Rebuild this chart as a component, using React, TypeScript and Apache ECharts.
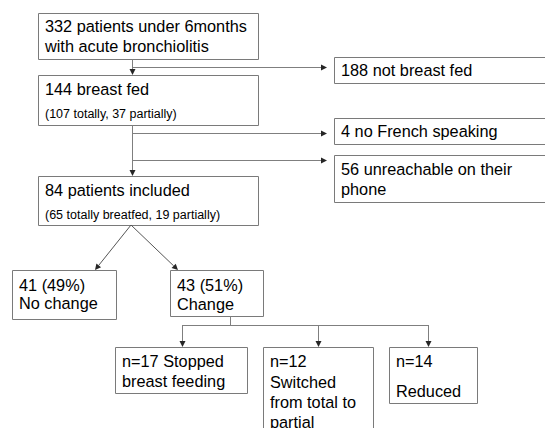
import React, { useEffect, useRef } from "react";
import * as echarts from "echarts";

// Flowchart content (data)
const boxIds = ["screened", "notBreastFed", "breastFed", "noFrench", "unreachable", "included", "noChange", "change", "stopped", "switched", "reduced"];
const boxMainLines: string[][] = [
  ["332 patients under 6months", "with acute bronchiolitis"],
  ["188 not breast fed"],
  ["144 breast fed"],
  ["4 no French speaking"],
  ["56 unreachable on their", "phone"],
  ["84 patients included"],
  ["41 (49%)", "No change"],
  ["43 (51%)", "Change"],
  ["n=17 Stopped", "breast feeding"],
  ["n=12", "Switched", "from total to", "partial"],
  ["n=14", "Reduced"],
];
const boxSubLines: string[] = ["", "", "(107 totally, 37 partially)", "", "", "(65 totally breatfed, 19 partially)", "", "", "", "", ""];

// Layout (positions / sizes), kept separate from content
const boxRects: number[][] = [
  [38, 13, 220, 46],
  [334, 57, 230, 26],
  [38, 75, 220, 50],
  [334, 118, 230, 26],
  [334, 155, 230, 47],
  [38, 176, 220, 49],
  [12, 270, 104, 49],
  [170, 270, 93, 46],
  [115, 347, 132, 46],
  [263, 347, 110, 110],
  [389, 347, 88, 56],
];
const lineYs: number[][] = [
  [26, 45.5],
  [70],
  [88.5],
  [131],
  [168.5, 188.5],
  [190],
  [285, 303],
  [285, 303.5],
  [361, 380.5],
  [361, 382, 402, 421.5],
  [361, 390.5],
];
const subYs: number[] = [0, 0, 113.5, 0, 0, 215, 0, 0, 0, 0, 0];

// connectors: [x1,y1,x2,y2, arrow(1/0)]
const connectors: number[][] = [
  [132, 59, 132, 75, 1],
  [132, 67, 327, 67, 1],
  [132, 125, 132, 176, 1],
  [132, 133, 327, 133, 1],
  [132, 160, 327, 160, 1],
  [131, 225, 95, 270, 1],
  [131, 225, 178, 270, 1],
  [230, 316, 230, 325, 0],
  [182, 325, 428, 325, 0],
  [182, 325, 182, 347, 1],
  [318, 325, 318, 347, 1],
  [428, 325, 428, 347, 1],
];

const FONT = '"Liberation Sans", Arial, sans-serif';
const BORDER = "#7a7a7a";
const LINE = "#7f7f7f";
const ARROW = "#262626";

function buildGraphics() {
  const els: any[] = [];
  boxIds.forEach((id, i) => {
    const [x, y, w, h] = boxRects[i];
    els.push({
      type: "rect",
      id: id + "_box",
      shape: { x: x + 0.5, y: y + 0.5, width: w, height: h },
      style: { fill: "#fff", stroke: BORDER, lineWidth: 1 },
    });
    boxMainLines[i].forEach((t, k) => {
      els.push({
        type: "text",
        x: x + 7,
        y: lineYs[i][k],
        style: { text: t, font: "16.3px " + FONT, fill: "#000", align: "left", verticalAlign: "middle" },
      });
    });
    if (boxSubLines[i]) {
      els.push({
        type: "text",
        x: x + 7,
        y: subYs[i],
        style: { text: boxSubLines[i], font: "12.5px " + FONT, fill: "#000", align: "left", verticalAlign: "middle" },
      });
    }
  });
  connectors.forEach(([x1, y1, x2, y2, arrow]) => {
    const dx = x2 - x1;
    const dy = y2 - y1;
    const len = Math.sqrt(dx * dx + dy * dy);
    const ux = dx / len;
    const uy = dy / len;
    const al = arrow ? 6 : 0;
    const ox = dx === 0 ? 0.5 : 0;
    const oy = dy === 0 ? 0.5 : 0;
    els.push({
      type: "line",
      shape: { x1: x1 + ox, y1: y1 + oy, x2: x2 - ux * al + ox, y2: y2 - uy * al + oy },
      style: { stroke: dx !== 0 && dy !== 0 ? "#555" : LINE, lineWidth: 1 },
    });
    if (arrow) {
      const bx = x2 - ux * al + ox;
      const by = y2 - uy * al + oy;
      const px = -uy * 3;
      const py = ux * 3;
      els.push({
        type: "polygon",
        shape: { points: [[x2 + ox, y2 + oy], [bx + px, by + py], [bx - px, by - py]] },
        style: { fill: ARROW },
      });
    }
  });
  return els;
}

export default function App() {
  const ref = useRef<HTMLDivElement>(null);
  useEffect(() => {
    if (!ref.current) return;
    const chart = echarts.init(ref.current, null, { renderer: "svg" });
    chart.setOption({
      animation: false,
      backgroundColor: "#fff",
      graphic: { elements: buildGraphics() },
    });
    return () => chart.dispose();
  }, []);
  return <div ref={ref} style={{ position: "fixed", left: 0, top: 0, width: 545, height: 428, background: "#fff" }} />;
}
